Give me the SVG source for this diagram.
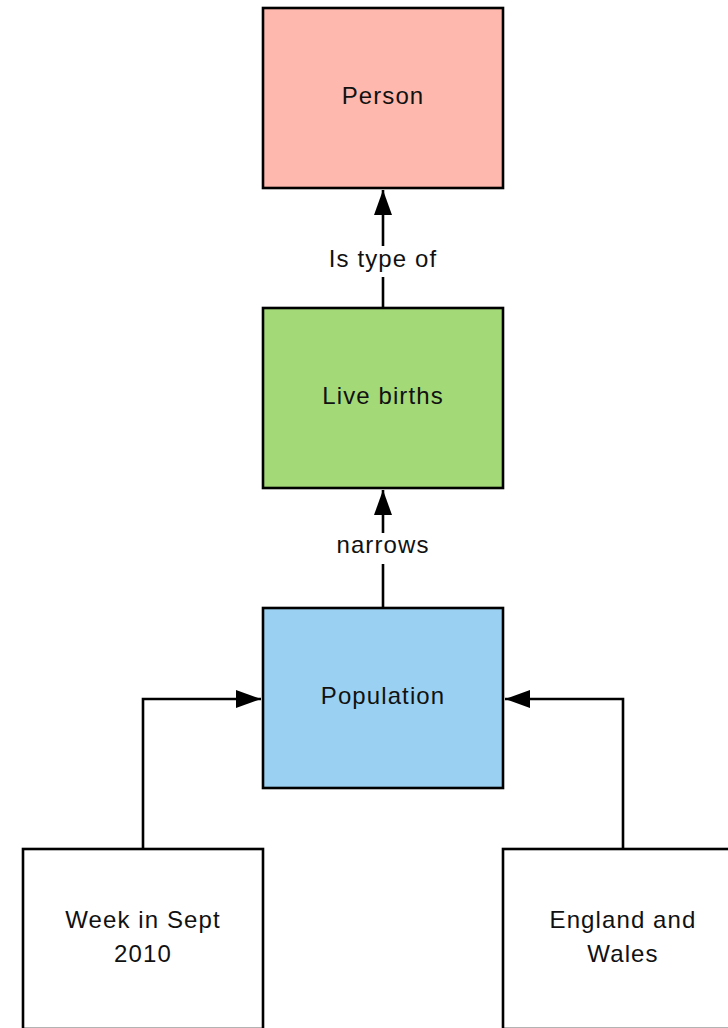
<svg xmlns="http://www.w3.org/2000/svg" width="728" height="1028" viewBox="0 0 728 1028">
  <style>
    .box { stroke: #000; stroke-width: 2.6; }
    .label { font-family: "Liberation Sans", Arial, sans-serif; font-size: 24px; letter-spacing: 1.1px; fill: #111; text-anchor: middle; }
    .edge { fill: none; stroke: #000; stroke-width: 2.6; }
    .edge-bg { fill: #fff; }
  </style>
  <defs>
    <marker id="arrow" markerUnits="userSpaceOnUse" markerWidth="26" markerHeight="20" refX="25" refY="9" orient="auto">
      <path d="M0,0 L25,9 L0,18 Z" fill="#000"/>
    </marker>
  </defs>
  <rect width="728" height="1028" fill="#fff"/>

  <!-- connectors -->
  <g id="connectors">
    <path class="edge" d="M383,308 V190" marker-end="url(#arrow)"/>
    <rect class="edge-bg" x="322" y="246" width="122" height="31"/>
    <text class="label" x="383" y="267">Is type of</text>

    <path class="edge" d="M383,608 V490" marker-end="url(#arrow)"/>
    <rect class="edge-bg" x="330" y="533" width="106" height="31"/>
    <text class="label" x="383" y="553">narrows</text>

    <path class="edge" d="M143,849 V699 H261" marker-end="url(#arrow)"/>
    <path class="edge" d="M623,849 V699 H505" marker-end="url(#arrow)"/>
  </g>

  <!-- nodes -->
  <g id="person">
    <rect class="box" x="263" y="8" width="240" height="180" fill="#FFB8AE"/>
    <text class="label" x="383" y="104">Person</text>
  </g>
  <g id="live-births">
    <rect class="box" x="263" y="308" width="240" height="180" fill="#A3D977"/>
    <text class="label" x="383" y="404">Live births</text>
  </g>
  <g id="population">
    <rect class="box" x="263" y="608" width="240" height="180" fill="#9AD1F2"/>
    <text class="label" x="383" y="704">Population</text>
  </g>
  <g id="week-in-sept">
    <rect class="box" x="23" y="849" width="240" height="180" fill="#fff"/>
    <text class="label" x="143" y="928">Week in Sept</text>
    <text class="label" x="143" y="962">2010</text>
  </g>
  <g id="england-and-wales">
    <rect class="box" x="503" y="849" width="240" height="180" fill="#fff"/>
    <text class="label" x="623" y="928">England and</text>
    <text class="label" x="623" y="962">Wales</text>
  </g>
</svg>
